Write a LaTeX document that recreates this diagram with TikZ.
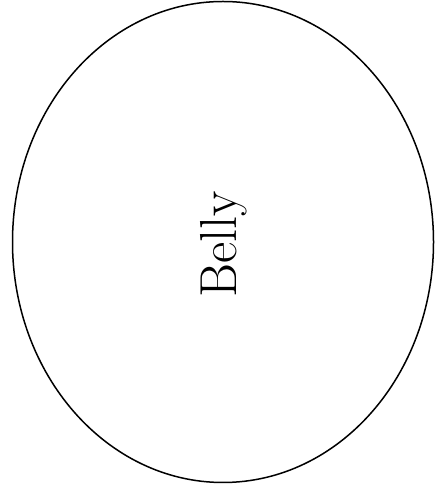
\documentclass[tikz,border=0pt]{standalone}
\usepackage{xcolor}
\usepackage{tikz}
\usetikzlibrary{shapes.geometric, positioning}

\begin{document}
\begin{tikzpicture}[
    x=1pt, y=1pt,
    bellyshape/.style={draw, ellipse, line width=1.5pt, minimum width=421pt, minimum height=481pt, inner sep=0pt},
    bellytext/.style={rotate=90, font=\fontsize{52}{62}\selectfont, inner sep=0pt}
]
\useasboundingbox (0,0) rectangle (435,492);
\node (belly) [bellyshape] at (223,250) {};
\node (label) [bellytext] at (224,248) {Belly};
\end{tikzpicture}
\end{document}
